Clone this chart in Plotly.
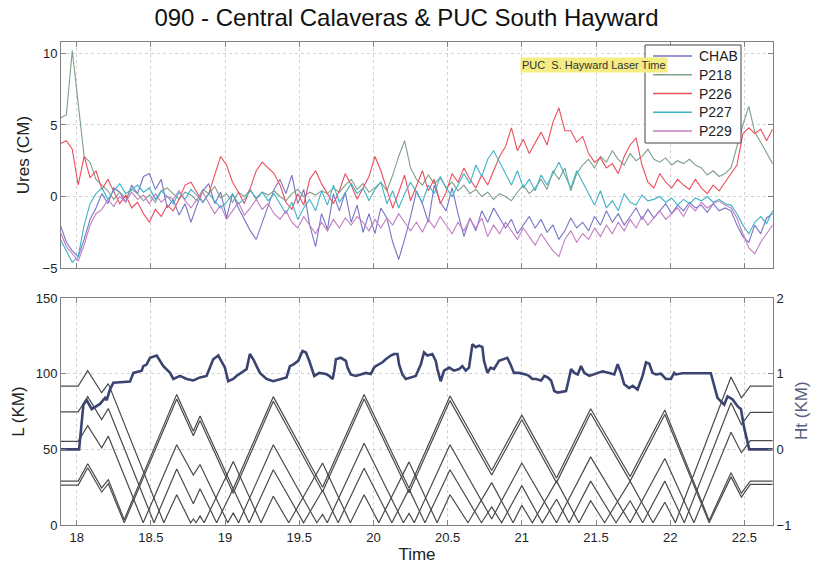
import numpy as np
import plotly.graph_objects as go

# ---------------- top panel: residuals (cm), sampled every 0.04 day ----------------
t0, dt, n = 17.89, 0.04, 121
time_top = np.round(t0 + dt * np.arange(n), 3)

chab = [-2.0, -3.2, -3.8, -4.2, -3.0, -1.6, -0.8, 0.2, -0.5, 0.6,
        0.3, -0.4, 0.8, 0.2, 1.4, 1.6, 0.5, 1.2, -0.8, -0.2,
        -1.3, -0.5, -1.8, -0.6, 0.4, 0.9, -0.5, 0.3, -1.5, 0.2,
        -0.8, -1.6, -2.4, -3.0, -1.8, -0.6, 0.5, 1.2, 0.2, 1.5,
        -0.5, 0.5, -2.0, -3.5, -1.2, -2.3, 0.2, -1.0, 0.3, -1.8,
        -0.6, -2.5, -1.2, -2.6, -0.8, -1.5, -3.2, -4.4, -3.0, -1.4,
        0.4, -0.5, -1.8, 0.8, -0.4, -1.0, 0.6, -1.2, -2.8, -1.5,
        -2.4, -1.0, -1.8, -0.8, -1.5, -2.2, -1.6, -2.6, -2.0, -1.4,
        -2.2, -1.6, -2.5, -2.0, -3.0, -2.4, -1.5, -2.2, -1.8, -2.4,
        -1.4, -2.0, -1.0, -1.8, -1.2, -2.0, -1.4, -0.8, -1.6, -0.9,
        -1.5, -1.0, -0.5, -1.2, -0.6, -1.0, -0.4, -0.8, -0.6, -1.1,
        -0.5, -1.0, -0.8, -1.0, -2.0, -2.8, -3.2, -2.0, -2.6, -1.5,
        -1.2]
p218 = [5.5, 5.7, 10.2, 6.5, 2.8, 2.4, 1.2, 0.8, 0.4, -0.2,
        0.3, -0.1, 0.5, 0.2, -0.3, 0.1, -0.4, 0.4, 0.6, 0.2,
        -0.2, 0.3, 0.1, -0.3, 0.5, 0.2, 0.7, -0.1, 0.2, -0.4,
        0.3, 0.0, 0.5, -0.2, 0.3, 0.1, 0.4, 0.0, -0.3, 0.2,
        0.5, 0.0, 0.3, 0.1, 0.4, 0.2, 0.6, 0.3, 0.8, 1.2,
        0.5, 0.9, 0.3, 0.6, 1.0, 0.4, 1.5, 2.8, 3.9, 2.0,
        1.2, 0.8, 1.5, 0.9, 1.3, 0.6, 1.0, 0.4, 0.8, 0.2,
        0.5, 0.0, 0.3, -0.2, 0.2, 0.0, -0.3, 0.3, 0.8, 0.2,
        0.6, 1.2, 0.5, 1.8, 1.2, 2.0, 0.4, 1.6, 2.2, 2.6,
        2.0, 2.8, 2.4, 3.2, 2.6, 2.2, 3.0, 2.5, 2.8, 3.3,
        2.6, 2.4, 2.7, 2.2, 2.5, 2.3, 2.6, 2.2, 2.0, 1.5,
        1.8, 1.4, 1.6, 2.0, 3.5, 5.0, 6.3, 4.5, 3.8, 3.0,
        2.3]
p226 = [3.7, 3.9, 3.3, 0.8, 2.8, 1.3, 1.8, 0.5, 1.2, 0.4,
        -0.5, 0.1, -0.8, -0.4, -1.2, -1.8, -0.9, -1.4, -0.6, -1.0,
        -0.2, 0.8, 1.0, 0.3, -0.4, 0.2, 1.5, 2.8, 2.2, 1.0,
        0.3, -0.5, 0.6, 1.8, 2.4, 2.0, 1.6, 0.8, -0.4, -0.9,
        0.2, -0.6, 1.2, 1.8, 0.9, 0.2, -0.5, 0.4, 1.6, 0.8,
        -0.2, 0.6, 1.4, 2.8, 1.8, 0.5, -0.8, 0.3, 1.5, -0.3,
        0.8, 1.8, 0.4, 1.2, -0.5, 0.3, 1.6, 1.0, 2.0, 1.2,
        0.6, 1.5, 0.8, 1.8, 2.8, 3.5, 4.8, 3.2, 4.0, 3.0,
        3.8, 4.5, 3.6, 5.2, 6.2, 4.6, 4.6, 3.8, 4.2, 3.0,
        2.4, 2.7, 2.0, 2.3, 1.6, 2.8, 3.6, 4.1, 2.2, 1.0,
        0.6, 1.6, 1.0, 0.6, 1.2, 0.8, 0.5, 1.2, 0.6, 0.2,
        0.8, 0.4, 1.0, 1.6, 2.2, 4.4, 4.8, 4.4, 4.7, 3.9,
        4.7]
p227 = [-3.0, -3.8, -4.6, -4.2, -2.0, -0.5, 0.2, 0.6, -0.2, 0.4,
        0.9, 0.2, 0.5, 0.8, 0.3, 0.6, -0.2, 0.4, 0.0, -0.5,
        0.3, -0.2, 0.5, 0.1, -0.4, 0.2, -0.3, -0.8, -0.4, 0.2,
        -0.5, -0.2, 0.4, -0.1, 0.3, -0.3, 0.2, -0.5, -1.2, -0.4,
        -1.6, -0.8, -0.2, -1.0, 0.4, -0.6, 0.8, -0.4, 0.3, 0.9,
        0.2, 0.6, -0.3, 0.5, 1.0, -0.5, 0.4, -0.8, 0.2, 1.0,
        0.3, -0.4, 0.8, 0.2, 1.4, 0.6, 0.0, 0.8, 1.6, 0.9,
        2.2, 1.4, 2.6, 3.2, 2.4, 1.5, 0.8, 1.8, 0.6, 1.2,
        0.4, 1.5, 0.8, 1.6, 2.4, 1.5, 0.6, 1.8, 1.0, 0.3,
        -0.6, 0.4, -0.8, -0.3, -1.0, 0.2, -0.4, -0.6, 0.1, -0.3,
        -0.2, 0.0, -0.4, -0.1, -0.6, -0.2, -0.5, -0.1, -0.3, 0.0,
        -0.4, -0.2, -0.5, -0.6, -1.2, -2.0, -2.6, -1.8, -1.4, -1.9,
        -1.0]
p229 = [-2.5, -3.5, -4.0, -4.5, -3.4, -2.0, -1.2, -0.9, -0.2, -0.7,
        0.0, -0.4, 0.3, -0.2, 0.1, -0.5, 0.2, -0.4, 0.0, -0.2,
        0.4, -0.3, -0.8, -0.2, 0.3, -0.5, -1.2, -0.6, -1.6, -1.0,
        -0.4, -1.3, -0.8, -0.2, -0.9, -0.5, -1.2, -1.6, -1.0, -1.8,
        -2.2, -1.4, -2.0, -2.6, -1.8, -2.4, -1.6, -2.2, -1.5, -2.0,
        -1.4, -1.8, -2.4, -1.6, -2.2, -1.5, -2.0, -1.2, -1.8, -2.4,
        -1.8, -2.5, -1.6, -2.2, -1.4, -2.0, -2.6, -1.8, -2.4, -1.6,
        -2.2, -1.5, -2.8, -2.0, -2.6, -1.8, -2.4, -3.0, -2.2, -2.8,
        -3.4, -2.6, -3.2, -3.8, -4.2, -3.0, -2.4, -3.2, -2.6, -3.0,
        -2.2, -2.8, -2.0, -2.6, -1.8, -2.4, -1.6, -2.2, -1.4, -2.0,
        -1.5, -1.0, -1.6, -1.2, -0.8, -1.4, -0.6, -1.0, -0.4, -0.8,
        -0.5, -0.3, -0.6, -0.8, -1.5, -2.6, -3.6, -4.0, -3.2, -2.6,
        -2.0]

series_names = ["CHAB", "P218", "P226", "P227", "P229"]
series_vals = [chab, p218, p226, p227, p229]
series_colors = ["#7474c6", "#7f9f8a", "#ec4f5e", "#3fb3c6", "#c47cc2"]

# ---------------- bottom panel: L (km) vertices of each gray track ----------------
c_t = [17.89, 18.01, 18.074, 18.168, 18.213, 18.587, 18.674, 18.768, 18.786, 18.804,
       18.831, 18.859, 19.055, 19.242, 19.325, 19.429, 19.657, 19.844, 19.937, 20.036,
       20.24, 20.429, 20.516, 20.637, 20.797, 20.941, 21.0, 21.071, 21.234, 21.385,
       21.464, 21.558, 21.73, 21.884, 21.964, 22.035, 22.41, 22.48, 22.54, 22.69]
c_L = [91.8, 91.8, 102, 87.4, 93.4, 1.5, 20, 1.5, 4, 1.5,
       6, 1.5, 42, 1.5, 19, 1.5, 41, 1.5, 20, 1.5,
       41.7, 1.5, 20, 1.5, 28, 1.5, 13, 1.5, 29, 1.5,
       16, 1.5, 29, 1.5, 15, 1.5, 97.8, 84, 91.8, 91.8]

b_t = [17.89, 18.01, 18.074, 18.168, 18.213, 18.521, 18.674, 18.786, 18.831, 18.943,
       19.055, 19.162, 19.325, 19.529, 19.657, 19.762, 19.937, 20.124, 20.24, 20.347,
       20.516, 20.728, 20.797, 20.864, 21.0, 21.138, 21.234, 21.319, 21.464, 21.635,
       21.73, 21.815, 21.964, 22.095, 22.41, 22.48, 22.54, 22.69]
b_L = [74.8, 74.8, 84.8, 69.7, 77, 1.5, 37, 14, 24, 1.5,
       24, 1.5, 36.5, 1.5, 23, 1.5, 37.5, 1.5, 23.7, 1.5,
       36.5, 1.5, 12, 1.5, 26, 1.5, 17, 1.5, 29, 1.5,
       16, 1.5, 29, 1.5, 80.8, 66.4, 74.4, 74.4]

a_t = [17.89, 18.01, 18.074, 18.168, 18.213, 18.448, 18.674, 18.786, 18.831, 19.018,
       19.055, 19.091, 19.325, 19.618, 19.657, 19.689, 19.937, 20.202, 20.24, 20.275,
       20.516, 20.797, 21.0, 21.234, 21.464, 21.73, 21.964, 22.16, 22.41, 22.48,
       22.54, 22.69]
a_L = [55.3, 55.3, 65.7, 51, 58.7, 1.5, 53, 33, 40, 1.5,
       8, 1.5, 53, 1.5, 7, 1.5, 54, 1.5, 7.7, 1.5,
       53, 4, 41, 1.5, 45, 1.5, 44, 1.5, 61.3, 47.8,
       55.8, 55.8]

pair_t = [17.89, 18.01, 18.074, 18.168, 18.213, 18.32, 18.674, 18.786, 18.831, 19.055,
          19.325, 19.657, 19.937, 20.24, 20.516, 20.797, 21.0, 21.234, 21.464, 21.73,
          21.964, 22.263, 22.41, 22.48, 22.54, 22.69]
pair1_L = [29, 29, 40.5, 24.5, 30, 3.5, 86.3, 62, 72, 24,
           84.8, 25, 86.3, 24.3, 85.2, 36, 72.6, 31, 76.8, 32,
           76, 3, 34.5, 21, 29, 29]
pair2_L = [26.4, 26.4, 37.8, 21.8, 27.3, 1.5, 83.3, 59, 69, 21,
           81.8, 22, 83.3, 21.3, 82.2, 33, 69.6, 28, 73.8, 29,
           73, 1.5, 31.8, 18.5, 26.8, 26.8]

# ---------------- bottom panel: Ht (km) ----------------
ht_t = [17.89, 18.016, 18.045, 18.067, 18.101, 18.157, 18.191, 18.202, 18.224, 18.247,
        18.359, 18.382, 18.438, 18.449, 18.471, 18.494, 18.539, 18.561, 18.584, 18.629,
        18.651, 18.696, 18.741, 18.786, 18.831, 18.875, 18.898, 18.920, 18.954, 18.976,
        18.999, 19.021, 19.055, 19.077, 19.111, 19.145, 19.167, 19.190, 19.212, 19.235,
        19.279, 19.324, 19.414, 19.437, 19.459, 19.493, 19.522, 19.545, 19.567, 19.590,
        19.601, 19.635, 19.680, 19.702, 19.725, 19.736, 19.747, 19.780, 19.814, 19.825,
        19.847, 19.881, 19.915, 19.949, 19.982, 20.004, 20.016, 20.061, 20.083, 20.117,
        20.139, 20.162, 20.173, 20.195, 20.218, 20.263, 20.285, 20.319, 20.341, 20.364,
        20.397, 20.420, 20.431, 20.453, 20.476, 20.510, 20.543, 20.577, 20.599, 20.622,
        20.644, 20.667, 20.689, 20.712, 20.734, 20.745, 20.768, 20.790, 20.812, 20.846,
        20.880, 20.902, 20.924, 20.947, 20.980, 21.026, 21.048, 21.071, 21.096, 21.130,
        21.152, 21.175, 21.197, 21.219, 21.242, 21.298, 21.309, 21.332, 21.354, 21.377,
        21.399, 21.421, 21.455, 21.500, 21.545, 21.590, 21.623, 21.646, 21.668, 21.690,
        21.724, 21.747, 21.780, 21.814, 21.837, 21.859, 21.881, 21.904, 21.937, 21.971,
        22.005, 22.027, 22.038, 22.083, 22.274, 22.319, 22.342, 22.364, 22.387, 22.421,
        22.454, 22.477, 22.499, 22.533, 22.69]
ht_v = [0.0, 0.0, 0.59, 0.65, 0.53, 0.60, 0.68, 0.65, 0.79, 0.88,
        0.895, 1.01, 1.04, 1.10, 1.12, 1.21, 1.24, 1.17, 1.10, 1.01,
        0.93, 0.97, 0.93, 0.91, 0.95, 0.97, 1.08, 1.19, 1.24, 1.17,
        1.08, 0.90, 0.93, 0.97, 1.01, 1.06, 1.26, 1.19, 1.10, 1.01,
        0.93, 0.90, 0.95, 1.10, 1.12, 1.17, 1.30, 1.28, 1.17, 1.01,
        0.97, 1.01, 0.995, 0.97, 0.93, 1.04, 1.19, 1.21, 1.17, 1.08,
        0.99, 0.97, 0.99, 1.01, 0.995, 1.08, 1.10, 1.15, 1.19, 1.24,
        1.26, 1.26, 1.12, 0.99, 0.93, 0.95, 0.97, 1.12, 1.28, 1.24,
        1.26, 1.17, 1.06, 0.90, 1.04, 1.08, 1.04, 1.06, 1.10, 1.04,
        1.08, 1.39, 1.35, 1.37, 1.35, 1.17, 1.01, 1.08, 1.06, 1.17,
        1.19, 1.21, 1.12, 1.01, 1.01, 0.99, 0.97, 0.93, 0.93, 0.91,
        0.97, 0.95, 0.91, 0.77, 0.75, 0.77, 0.86, 1.06, 1.01, 0.99,
        1.10, 1.01, 0.97, 1.00, 1.03, 1.01, 0.99, 1.125, 1.01, 0.86,
        0.81, 0.84, 0.79, 0.97, 1.15, 1.13, 1.01, 0.99, 1.00, 0.93,
        0.93, 1.01, 0.99, 1.005, 1.005, 0.68, 0.64, 0.59, 0.70, 0.66,
        0.57, 0.53, 0.28, 0.0, 0.0]

xticks = [18, 18.5, 19, 19.5, 20, 20.5, 21, 21.5, 22, 22.5]
xtick_text = ["18", "18.5", "19", "19.5", "20", "20.5", "21", "21.5", "22", "22.5"]

FONT = "Liberation Sans, Arial, sans-serif"
AX = "#808080"
GRID = "#d2d2d2"

# plot-area pixel geometry (used only to place the hand-drawn legend box)
PL, PT, PW, PH = 61, 42, 712, 483


def px(xp):
    return (xp - PL) / PW


def py(yp):
    return (PT + PH - yp) / PH


fig = go.Figure()

for name, vals, col in zip(series_names, series_vals, series_colors):
    fig.add_trace(go.Scatter(x=time_top, y=vals, mode="lines", name=name,
                             line=dict(color=col, width=1.1), showlegend=False,
                             xaxis="x", yaxis="y"))

for tt, LL in [(c_t, c_L), (b_t, b_L), (a_t, a_L), (pair_t, pair1_L), (pair_t, pair2_L)]:
    fig.add_trace(go.Scatter(x=tt, y=LL, mode="lines", showlegend=False,
                             line=dict(color="#4a4a4a", width=1.2),
                             xaxis="x2", yaxis="y2"))

fig.add_trace(go.Scatter(x=ht_t, y=ht_v, mode="lines", showlegend=False,
                         line=dict(color="#3b4470", width=2.6),
                         xaxis="x2", yaxis="y3"))

xcommon = dict(range=[17.894, 22.693], tickvals=xticks, ticktext=xtick_text,
               ticks="inside", ticklen=5, tickcolor=AX, showline=True, linecolor=AX,
               linewidth=1, mirror="ticks", showgrid=True, gridcolor=GRID,
               griddash="dot", gridwidth=1, zeroline=False,
               tickfont=dict(size=13, color="#222", family=FONT))
ycommon = dict(ticks="inside", ticklen=5, tickcolor=AX, showline=True, linecolor=AX,
               linewidth=1, showgrid=True, gridcolor=GRID, griddash="dot",
               gridwidth=1, zeroline=False,
               tickfont=dict(size=13, color="#222", family=FONT))

fig.update_layout(
    width=813, height=571,
    margin=dict(l=61, r=40, t=42, b=46),
    paper_bgcolor="white", plot_bgcolor="white",
    font=dict(family=FONT, color="#222"),
    showlegend=False,
    title=dict(text="090 - Central Calaveras & PUC South Hayward", x=0.5, xanchor="center",
               y=0.969, yanchor="middle", font=dict(size=24, color="#111", family=FONT)),
    xaxis=dict(domain=[0, 1], anchor="y", showticklabels=False, **xcommon),
    xaxis2=dict(domain=[0, 1], anchor="y2", showticklabels=True,
                title=dict(text="Time", font=dict(size=17, color="#222"), standoff=2),
                **xcommon),
    yaxis=dict(domain=[0.532, 1], anchor="x", range=[-5, 10.8], tickvals=[-5, 0, 5, 10],
               mirror="ticks",
               title=dict(text="Ures (CM)", font=dict(size=17, color="#222"), standoff=8),
               **ycommon),
    yaxis2=dict(domain=[0, 0.470], anchor="x2", range=[0, 150], tickvals=[0, 50, 100, 150],
                mirror=False,
                title=dict(text="L (KM)", font=dict(size=17, color="#222"), standoff=6),
                **ycommon),
    yaxis3=dict(overlaying="y2", anchor="x2", side="right", range=[-1, 2],
                tickvals=[-1, 0, 1, 2], ticks="inside", ticklen=5, tickcolor=AX,
                showline=True, linecolor=AX, linewidth=1, showgrid=False, zeroline=False,
                tickfont=dict(size=13, color="#222", family=FONT)),
)

# legend box (MATLAB style) drawn with shapes + text
fig.add_shape(type="rect", xref="paper", yref="paper",
              x0=px(645), x1=px(741), y0=py(143), y1=py(45),
              line=dict(color="#444", width=1), fillcolor="white", layer="above")
for k, (name, col) in enumerate(zip(series_names, series_colors)):
    yy = 56 + 18.75 * k
    fig.add_shape(type="line", xref="paper", yref="paper",
                  x0=px(653), x1=px(692), y0=py(yy), y1=py(yy),
                  line=dict(color=col, width=1.5), layer="above")
    fig.add_annotation(text=name, xref="paper", yref="paper", x=px(697), y=py(yy),
                       xanchor="left", yanchor="middle", showarrow=False,
                       font=dict(size=14, color="#222", family=FONT))

fig.add_annotation(text="PUC  S. Hayward Laser Time", xref="paper", yref="paper",
                   x=px(594), y=py(65.5), xanchor="center", yanchor="middle",
                   showarrow=False, bgcolor="#f6ec84", borderpad=1,
                   font=dict(size=11, color="#333", family=FONT))

fig.add_annotation(text="Ht (KM)", xref="paper", yref="paper",
                   x=px(801), y=py(411), xanchor="center", yanchor="middle",
                   textangle=-90, showarrow=False,
                   font=dict(size=17, color="#56607e", family=FONT))

fig.write_html("out.html", config={"displayModeBar": False},
               post_script="document.body.style.margin='0';")
